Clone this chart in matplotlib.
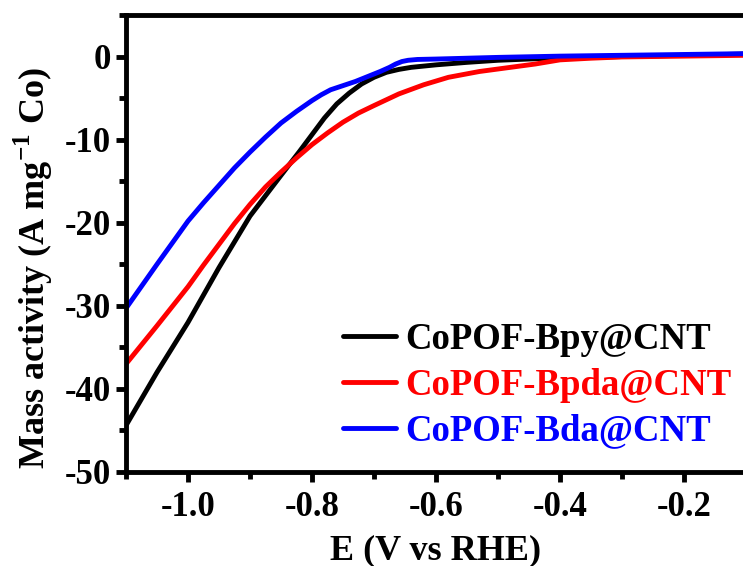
import matplotlib
matplotlib.use("Agg")
import matplotlib.pyplot as plt
from matplotlib.ticker import MultipleLocator, FuncFormatter

plt.rcParams['font.family'] = ['Liberation Serif', 'DejaVu Serif']
plt.rcParams['font.weight'] = 'bold'
plt.rcParams['axes.unicode_minus'] = False
plt.rcParams['mathtext.fontset'] = 'custom'
plt.rcParams['mathtext.rm'] = 'Liberation Serif:bold'
plt.rcParams['mathtext.bf'] = 'Liberation Serif:bold'

labels = ['CoPOF-Bpy@CNT', 'CoPOF-Bpda@CNT', 'CoPOF-Bda@CNT']
colors = ['#000000', '#ff0000', '#0000ff']

x_bpy = [-1.1, -1.05, -1.0, -0.95, -0.9, -0.85, -0.82, -0.8, -0.78, -0.76, -0.74, -0.72,
         -0.7, -0.68, -0.66, -0.64, -0.6, -0.55, -0.5, -0.45, -0.4, -0.3, -0.2, -0.1]
y_bpy = [-44.4, -38.0, -32.0, -25.4, -19.2, -14.3, -11.4, -9.4, -7.4, -5.7, -4.4, -3.3,
         -2.5, -1.9, -1.55, -1.3, -1.0, -0.7, -0.45, -0.3, -0.15, 0.0, 0.15, 0.3]

x_bpda = [-1.1, -1.05, -1.0, -0.975, -0.95, -0.925, -0.9, -0.875, -0.85, -0.825, -0.8,
          -0.775, -0.75, -0.725, -0.7, -0.66, -0.62, -0.58, -0.53, -0.48, -0.44, -0.4,
          -0.35, -0.3, -0.2, -0.1]
y_bpda = [-37.0, -32.4, -27.7, -25.1, -22.6, -20.1, -17.8, -15.7, -13.9, -12.2, -10.6,
          -9.2, -7.9, -6.8, -5.9, -4.5, -3.4, -2.5, -1.8, -1.3, -0.9, -0.4,
          -0.2, -0.05, 0.05, 0.15]

x_bda = [-1.1, -1.05, -1.025, -1.0, -0.975, -0.95, -0.925, -0.9, -0.875, -0.85, -0.825,
         -0.8, -0.785, -0.77, -0.75, -0.73, -0.71, -0.69, -0.675, -0.665, -0.655, -0.645,
         -0.63, -0.6, -0.5, -0.4, -0.3, -0.2, -0.1]
y_bda = [-30.3, -25.0, -22.4, -19.8, -17.6, -15.5, -13.4, -11.5, -9.7, -8.0, -6.6,
         -5.3, -4.6, -4.0, -3.5, -3.0, -2.4, -1.8, -1.3, -0.9, -0.6, -0.45,
         -0.35, -0.3, -0.1, 0.05, 0.15, 0.25, 0.35]

xticks = [-1.0, -0.8, -0.6, -0.4, -0.2]
yticks = [0, -10, -20, -30, -40, -50]

fig = plt.figure(figsize=(7.43, 5.66), dpi=100)
ax = fig.add_axes([126/743, 94/566, 620/743, 457/566])

series = [(x_bpy, y_bpy), (x_bpda, y_bpda), (x_bda, y_bda)]
for (xs, ys), lab, c in zip(series, labels, colors):
    ax.plot(xs, ys, color=c, lw=3.5, label=lab, solid_capstyle='round',
            solid_joinstyle='round')

ax.set_xlim(-1.1, -0.1)
ax.set_ylim(-50, 5)
ax.set_xticks(xticks)
ax.set_yticks(yticks)
ax.xaxis.set_minor_locator(MultipleLocator(0.1))
ax.yaxis.set_minor_locator(MultipleLocator(5))
ax.xaxis.set_major_formatter(FuncFormatter(lambda v, p: f"{v:.1f}".replace('\u2212', '-')))
ax.yaxis.set_major_formatter(FuncFormatter(lambda v, p: f"{int(round(v))}"))

for s in ax.spines.values():
    s.set_linewidth(3.5)
ax.tick_params(which='major', direction='out', length=7, width=3.5, labelsize=25, pad=4)
ax.tick_params(axis='x', which='major', pad=7)
ax.tick_params(which='minor', direction='out', length=5, width=3.5)
for t in ax.get_xticklabels() + ax.get_yticklabels():
    t.set_fontweight('bold')

ax.set_xlabel('E (V vs RHE)', fontsize=26, fontweight='bold', labelpad=7)
ax.set_ylabel(r'Mass activity (A mg$^{\mathbf{-1}}$ Co)', fontsize=26, fontweight='bold')
ax.yaxis.set_label_coords(-0.114, 0.446)

leg = ax.legend(loc='upper left', bbox_to_anchor=(0.35, 0.328), frameon=False,
                handlelength=1.44, handletextpad=0.25, labelspacing=0.29,
                borderpad=0, borderaxespad=0, prop={'weight': 'bold', 'size': 26.5})
for txt, c in zip(leg.get_texts(), colors):
    txt.set_color(c)

fig.savefig('out.png', dpi=100)
